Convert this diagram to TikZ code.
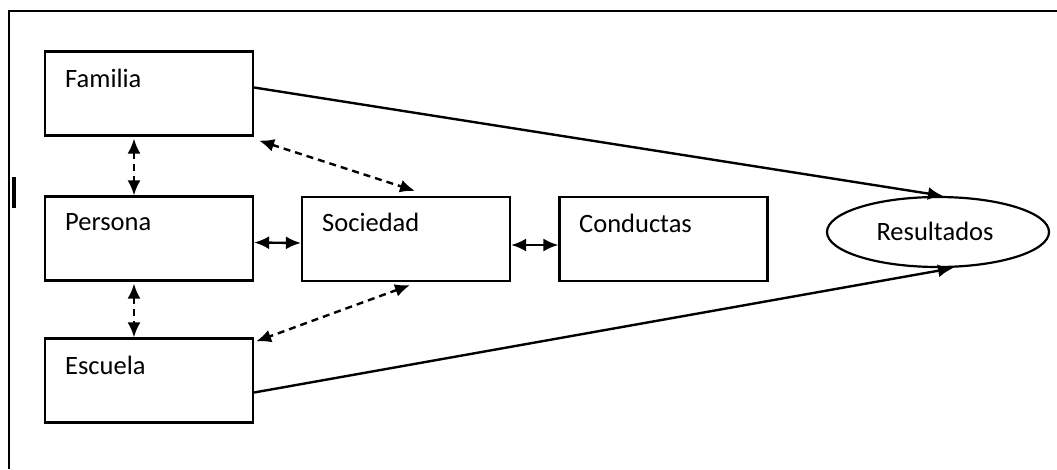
\documentclass[tikz,border=0pt]{standalone}
\usepackage{fontspec}
\setmainfont{Carlito}
\usetikzlibrary{arrows.meta,shapes.geometric}
\begin{document}
\begin{tikzpicture}[x=1pt,y=-1pt,
  box/.style={draw,line width=2.2pt,rectangle,minimum width=208pt,minimum height=84pt,inner sep=0pt},
  lbl/.style={anchor=base west,inner sep=0pt,font=\fontsize{26.5}{30}\selectfont},
  link/.style={line width=2.4pt,{Latex[length=15pt,width=13pt]}-{Latex[length=15pt,width=13pt]}},
  dlink/.style={link,dash pattern=on 7pt off 5pt},
  toarr/.style={line width=2.4pt,-{Latex[length=15pt,width=13pt]}},
]
\useasboundingbox (0,0) rectangle (1057,469);
% frame
\draw[line width=2.2pt] (9,469) -- (9,11) -- (1057,11);
\fill (12,177) rectangle (16,208);
% boxes
\node[box] (fam) at (149,93.5) {};
\node[box] (per) at (149,238.5) {};
\node[box] (esc) at (149,380.5) {};
\node[box] (soc) at (406,239) {};
\node[box] (con) at (663.5,239) {};
\node[draw,ellipse,line width=2.2pt,minimum width=222pt,minimum height=70pt,inner sep=0pt] (res) at (938,232) {};
% labels
\node[lbl] (tfam) at (65,87) {Familia};
\node[lbl] (tper) at (65,230) {Persona};
\node[lbl] (tesc) at (65,374) {Escuela};
\node[lbl] (tsoc) at (322,231) {Sociedad};
\node[lbl] (tcon) at (579,232) {Conductas};
\node[anchor=base,inner sep=0pt,font=\fontsize{26.5}{30}\selectfont] (tres) at (935,240) {Resultados};
% connectors
\draw[toarr] ([yshift=6pt]fam.east) -- ([xshift=5pt]res.north);
\draw[toarr] ([yshift=-12pt]esc.east) -- ([xshift=15pt]res.south);
\draw[link] ([yshift=-4pt]per.east) -- ([yshift=-4pt]soc.west);
\draw[link] ([yshift=-6pt]soc.east) -- ([yshift=-6pt]con.west);
\draw[dlink] ([xshift=-15pt,yshift=-2pt]fam.south) -- ([xshift=-15pt]per.north);
\draw[dlink] ([xshift=-15pt,yshift=-2pt]per.south) -- ([xshift=-15pt]esc.north);
\draw[dlink] ([xshift=5pt,yshift=-4pt]fam.south east) -- ([xshift=9pt,yshift=5pt]soc.north);
\draw[dlink] ([xshift=4pt,yshift=-3pt]soc.south) -- ([xshift=2pt,yshift=-4pt]esc.north east);
\end{tikzpicture}
\end{document}
